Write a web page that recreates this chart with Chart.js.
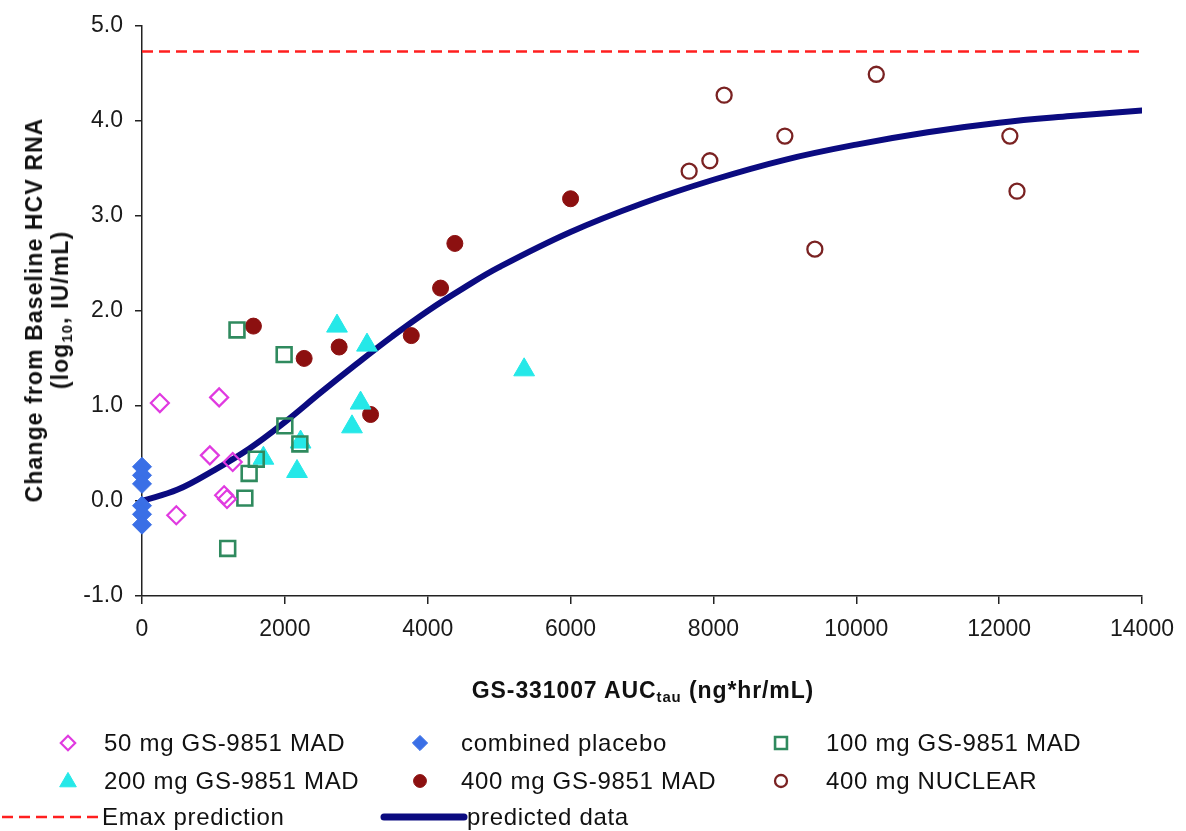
<!DOCTYPE html>
<html>
<head>
<meta charset="utf-8">
<script src="https://cdn.jsdelivr.net/npm/chart.js@4.4.1/dist/chart.umd.min.js"></script>
<style>
  body { margin: 0; background: #fff; }
  #wrap { position: relative; width: 1186px; height: 831px; font-family: "Liberation Sans", Arial, sans-serif; color: #111; }
  #c { position: absolute; left: 0; top: 0; }
  .ytitle { position: absolute; left: 47px; top: 310px; transform: translate(-50%, -50%) rotate(-90deg); font-weight: bold; font-size: 23px; text-align: center; white-space: nowrap; line-height: 26px; letter-spacing: 1.1px; }
  .xtitle { position: absolute; left: 643px; top: 690px; transform: translate(-50%, -50%); font-weight: bold; font-size: 23px; white-space: nowrap; letter-spacing: 0.9px; }
  .lg { position: absolute; font-size: 24px; white-space: nowrap; transform: translateY(-50%); letter-spacing: 0.7px; }
  sub { font-size: 65%; vertical-align: -4px; line-height: 0; }
</style>
</head>
<body>
<div id="wrap">
  <canvas id="c" width="1186" height="831"></canvas>
  <div class="ytitle">Change from Baseline HCV RNA<br>(log<sub>10</sub>, IU/mL)</div>
  <div class="xtitle">GS-331007 AUC<sub>tau</sub> (ng*hr/mL)</div>
  <div class="lg" style="left:104px;top:743px">50 mg GS-9851 MAD</div>
  <div class="lg" style="left:461px;top:743px">combined placebo</div>
  <div class="lg" style="left:826px;top:743px">100 mg GS-9851 MAD</div>
  <div class="lg" style="left:104px;top:781px">200 mg GS-9851 MAD</div>
  <div class="lg" style="left:461px;top:781px">400 mg GS-9851 MAD</div>
  <div class="lg" style="left:826px;top:781px">400 mg NUCLEAR</div>
  <div class="lg" style="left:102px;top:817px">Emax prediction</div>
  <div class="lg" style="left:467px;top:817px">predicted data</div>
</div>
<script>
// --- Datos ---
const xTicks = [0, 2000, 4000, 6000, 8000, 10000, 12000, 14000];
const yTicks = [-1, 0, 1, 2, 3, 4, 5];

const mg50X = [250, 1080, 950, 1270, 1150, 1190, 480];
const mg50Y = [1.03, 1.09, 0.48, 0.41, 0.06, 0.02, -0.15];

const placeboX = [0, 0, 0, 0, 0, 0];
const placeboY = [0.36, 0.27, 0.18, -0.05, -0.14, -0.25];

const mg100X = [1330, 1990, 2000, 2210, 1600, 1500, 1440, 1200];
const mg100Y = [1.8, 1.54, 0.79, 0.6, 0.44, 0.29, 0.03, -0.5];

const mg200X = [2730, 3150, 3060, 2940, 2220, 1700, 2170, 5350];
const mg200Y = [1.84, 1.64, 1.03, 0.78, 0.62, 0.45, 0.31, 1.38];

const mg400X = [1560, 2270, 2760, 3200, 3770, 4180, 4380, 6000];
const mg400Y = [1.84, 1.5, 1.62, 0.91, 1.74, 2.24, 2.71, 3.18];

const nuclearX = [7660, 7950, 8150, 9000, 9420, 10280, 12150, 12250];
const nuclearY = [3.47, 3.58, 4.27, 3.84, 2.65, 4.49, 3.84, 3.26];

const emaxX = [0, 14000];
const emaxY = [4.73, 4.73];

const predX = [0, 500, 1000, 1500, 2000, 2500, 3000, 3500, 4000, 4500, 5000, 6000, 7000, 8000, 9000, 10000, 11000, 12000, 13000, 14000];
const predY = [0, 0.12, 0.32, 0.55, 0.83, 1.14, 1.44, 1.73, 2.0, 2.24, 2.46, 2.83, 3.13, 3.38, 3.59, 3.75, 3.88, 3.98, 4.05, 4.11];

const toXY = (xs, ys) => xs.map((x, i) => ({ x: x, y: ys[i] }));

// --- Estilos ---
const styles = {
    mg50: { pointStyle: 'rectRot', radius: 9, borderColor: '#e03ae0', backgroundColor: 'rgba(255,255,255,0)', borderWidth: 2.2 },
    placebo: { pointStyle: 'rectRot', radius: 9.5, borderColor: '#3a6fe6', backgroundColor: '#3a6fe6', borderWidth: 1 },
    mg100: { pointStyle: 'rect', radius: 10.5, borderColor: '#2f8a5e', backgroundColor: 'rgba(255,255,255,0)', borderWidth: 2.6 },
    mg200: { pointStyle: 'triangle', radius: 12, borderColor: '#25e8e8', backgroundColor: '#25e8e8', borderWidth: 1 },
    mg400: { pointStyle: 'circle', radius: 8, borderColor: '#8c1010', backgroundColor: '#8c1010', borderWidth: 1 },
    nuclear: { pointStyle: 'circle', radius: 7.5, borderColor: '#7a2222', backgroundColor: 'rgba(255,255,255,0)', borderWidth: 2.3 }
};

function scatterSet(label, xs, ys, st) {
    return {
        type: 'scatter',
        label: label,
        data: toXY(xs, ys),
        clip: false,
        pointStyle: st.pointStyle,
        pointRadius: st.radius,
        pointHoverRadius: st.radius,
        pointBorderColor: st.borderColor,
        pointBackgroundColor: st.backgroundColor,
        pointBorderWidth: st.borderWidth,
        showLine: false
    };
}

// --- Leyenda dibujada a mano (solo marcadores, el texto va en HTML) ---
const legendMarkers = [
    { st: styles.mg50, x: 68, y: 743 },
    { st: styles.placebo, x: 420, y: 743 },
    { st: styles.mg100, x: 781, y: 743 },
    { st: styles.mg200, x: 68, y: 782 },
    { st: styles.mg400, x: 420, y: 781 },
    { st: styles.nuclear, x: 781, y: 781 }
];

const legendPlugin = {
    id: 'legendPlugin',
    afterDraw(chart) {
        const ctx = chart.ctx;
        ctx.save();
        legendMarkers.forEach(m => {
            ctx.fillStyle = m.st.backgroundColor;
            ctx.strokeStyle = m.st.borderColor;
            ctx.lineWidth = m.st.borderWidth;
            Chart.helpers.drawPoint(ctx, {
                pointStyle: m.st.pointStyle,
                radius: m.st.radius * 0.8,
                borderWidth: m.st.borderWidth,
                rotation: 0
            }, m.x, m.y);
        });
        // linea Emax
        ctx.beginPath();
        ctx.setLineDash([11, 6]);
        ctx.strokeStyle = '#ff1f1f';
        ctx.lineWidth = 2.5;
        ctx.moveTo(2, 817);
        ctx.lineTo(100, 817);
        ctx.stroke();
        // linea predicha
        ctx.beginPath();
        ctx.setLineDash([]);
        ctx.strokeStyle = '#0b0b80';
        ctx.lineWidth = 7;
        ctx.lineCap = 'round';
        ctx.moveTo(384, 817);
        ctx.lineTo(464, 817);
        ctx.stroke();
        ctx.restore();
    }
};

const ctx = document.getElementById('c').getContext('2d');
new Chart(ctx, {
    data: {
        datasets: [
            scatterSet('50 mg GS-9851 MAD', mg50X, mg50Y, styles.mg50),
            scatterSet('combined placebo', placeboX, placeboY, styles.placebo),
            scatterSet('100 mg GS-9851 MAD', mg100X, mg100Y, styles.mg100),
            scatterSet('200 mg GS-9851 MAD', mg200X, mg200Y, styles.mg200),
            scatterSet('400 mg GS-9851 MAD', mg400X, mg400Y, styles.mg400),
            scatterSet('400 mg NUCLEAR', nuclearX, nuclearY, styles.nuclear),
            {
                type: 'line',
                label: 'Emax prediction',
                data: toXY(emaxX, emaxY),
                borderColor: '#ff1f1f',
                borderWidth: 2.5,
                borderDash: [11, 6],
                pointRadius: 0
            },
            {
                type: 'line',
                label: 'predicted data',
                data: toXY(predX, predY),
                borderColor: '#0b0b80',
                borderWidth: 6,
                tension: 0.4,
                pointRadius: 0,
                borderCapStyle: 'round'
            }
        ]
    },
    options: {
        responsive: false,
        animation: false,
        layout: { padding: { left: 0, top: 22, right: 44, bottom: 195 } },
        plugins: { legend: { display: false }, tooltip: { enabled: false } },
        scales: {
            x: {
                type: 'linear',
                min: 0,
                max: 14000,
                afterFit: s => { s.height = 40; },
                afterBuildTicks: s => { s.ticks = xTicks.map(v => ({ value: v })); },
                grid: { drawOnChartArea: false, tickLength: 8, color: '#222', lineWidth: 1.5 },
                border: { color: '#222', width: 1.5 },
                ticks: { color: '#1a1a1a', font: { family: 'Liberation Sans', size: 23 }, padding: 12, maxRotation: 0, callback: v => String(v) }
            },
            y: {
                type: 'linear',
                min: -1,
                max: 5,
                afterFit: s => { s.width = 142; },
                afterBuildTicks: s => { s.ticks = yTicks.map(v => ({ value: v })); },
                grid: { drawOnChartArea: false, tickLength: 7, color: '#222', lineWidth: 1.5 },
                border: { color: '#222', width: 1.5 },
                ticks: { color: '#1a1a1a', font: { family: 'Liberation Sans', size: 23 }, padding: 12, callback: v => v.toFixed(1) }
            }
        }
    },
    plugins: [legendPlugin]
});
</script>
</body>
</html>
